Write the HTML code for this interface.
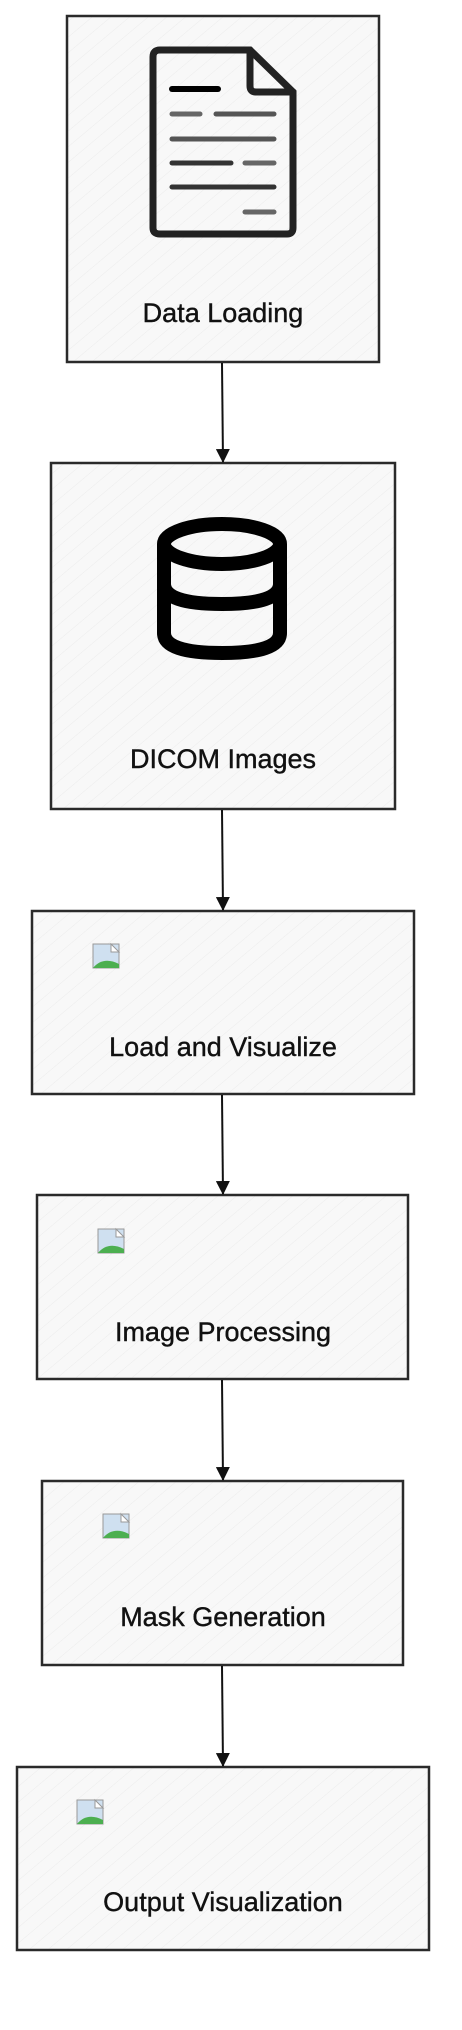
<!DOCTYPE html>
<html><head><meta charset="utf-8"><style>
html,body{margin:0;padding:0;background:#fff;}
svg{display:block}
text{font-family:"Comic Sans MS","Liberation Sans",sans-serif;font-size:27px;fill:#111;text-anchor:middle;stroke:#111;stroke-width:0.4px}
</style></head><body>
<svg width="462" height="2030" viewBox="0 0 462 2030" xmlns="http://www.w3.org/2000/svg">
<defs>
<pattern id="h" width="12" height="12" patternUnits="userSpaceOnUse" patternTransform="rotate(-40)">
<rect width="12" height="12" fill="#f8f8f8"/>
<line x1="0" y1="0" x2="12" y2="0" stroke="#ececec" stroke-width="1"/>
</pattern>
<marker id="a" viewBox="0 0 14 14" refX="13" refY="7" markerWidth="14" markerHeight="14" markerUnits="userSpaceOnUse" orient="auto">
<path d="M0,0 L14,7 L0,14 z" fill="#111"/>
</marker>
<g id="bi">
<rect x="0" y="0" width="26" height="24" fill="#cfe0f0" stroke="#999" stroke-width="1"/>
<path d="M0,24 Q10,12 26,20 L26,24 Z" fill="#4caf50"/>
<path d="M18,0 L26,8 L18,8 Z" fill="#fff" stroke="#999" stroke-width="1"/>
</g>
</defs>
<g stroke="#2a2a2a" stroke-width="2.5" fill="url(#h)">
<rect x="67" y="16" width="312" height="346"/>
<rect x="51" y="463" width="344" height="346"/>
<rect x="32" y="911" width="382" height="183"/>
<rect x="37" y="1195" width="371" height="184"/>
<rect x="42" y="1481" width="361" height="184"/>
<rect x="17" y="1767" width="412" height="183"/>
</g>
<g stroke="#111" stroke-width="2" marker-end="url(#a)">
<line x1="222" y1="363" x2="223" y2="462"/>
<line x1="222" y1="810" x2="223" y2="910"/>
<line x1="222" y1="1095" x2="223" y2="1194"/>
<line x1="222" y1="1380" x2="223" y2="1480"/>
<line x1="222" y1="1666" x2="223" y2="1766"/>
</g>
<g fill="none" stroke="#222" stroke-linecap="round">
<path d="M160,50 L250,50 L293,92 L293,228 Q293,234 287,234 L160,234 Q153,234 153,228 L153,57 Q153,50 160,50 Z" stroke-width="7"/>
<path d="M250,50 L250,86 Q250,92 256,92 L293,92" stroke-width="7"/>
<line x1="172" y1="89" x2="218" y2="89" stroke-width="6" stroke="#000"/>
<line x1="172" y1="114" x2="200" y2="114" stroke-width="5" stroke="#666"/>
<line x1="216" y1="114" x2="274" y2="114" stroke-width="5" stroke="#555"/>
<line x1="172" y1="139" x2="274" y2="139" stroke-width="5" stroke="#555"/>
<line x1="172" y1="163" x2="231" y2="163" stroke-width="5" stroke="#333"/>
<line x1="245" y1="163" x2="274" y2="163" stroke-width="5" stroke="#666"/>
<line x1="172" y1="187" x2="274" y2="187" stroke-width="5" stroke="#333"/>
<line x1="245" y1="212" x2="274" y2="212" stroke-width="5" stroke="#666"/>
</g>
<g fill="none" stroke="#000" stroke-width="14">
<ellipse cx="222" cy="544" rx="58" ry="20"/>
<path d="M164,544 L164,633 Q164,653 222,653 Q280,653 280,633 L280,544"/>
<path d="M164,584 Q164,604 222,604 Q280,604 280,584"/>
</g>
<use href="#bi" x="93" y="944"/>
<use href="#bi" x="98" y="1229"/>
<use href="#bi" x="103" y="1514"/>
<use href="#bi" x="77" y="1800"/>
<text x="223" y="322">Data Loading</text>
<text x="223" y="768">DICOM Images</text>
<text x="223" y="1056">Load and Visualize</text>
<text x="223" y="1341">Image Processing</text>
<text x="223" y="1626">Mask Generation</text>
<text x="223" y="1911">Output Visualization</text>
</svg>
</body></html>
